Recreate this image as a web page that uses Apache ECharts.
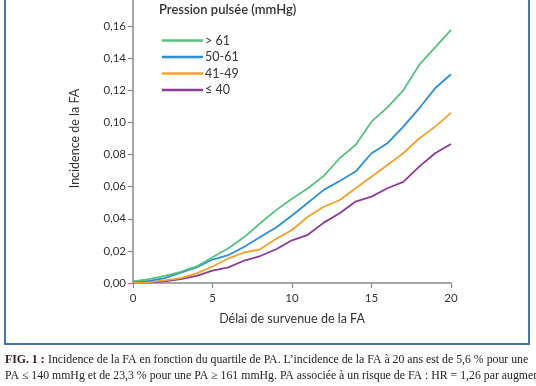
<!DOCTYPE html>
<html>
<head>
<meta charset="utf-8">
<script src="https://cdn.jsdelivr.net/npm/echarts@6/dist/echarts.min.js"></script>
<style>
html,body{margin:0;padding:0;background:#fff;}
#c{width:536px;height:386px;}
</style>
</head>
<body>
<div id="c"></div>
<script>
const years = [0,1,2,3,4,5,6,7,8,9,10,11,12,13,14,15,16,17,18,19,20];
const seriesNames = ['> 61','50-61','41-49','≤ 40'];
const pp61 = [0.001,0.0024,0.0045,0.007,0.0103,0.016,0.0217,0.0286,0.0372,0.0454,0.0525,0.059,0.0667,0.0777,0.086,0.1005,0.1094,0.120,0.1358,0.1468,0.1576];
const pp50 = [0.001,0.0013,0.003,0.0065,0.0097,0.0146,0.0174,0.0226,0.0286,0.0346,0.042,0.050,0.058,0.0635,0.0694,0.0808,0.087,0.0974,0.1088,0.1213,0.130];
const pp41 = [0.0005,0.0006,0.0017,0.003,0.006,0.0103,0.0153,0.019,0.021,0.0275,0.033,0.0413,0.0475,0.0517,0.059,0.0662,0.0735,0.0808,0.090,0.0974,0.106];
const pp40 = [0.0005,0.0004,0.001,0.0024,0.0045,0.0077,0.0097,0.014,0.0168,0.021,0.0266,0.030,0.0376,0.0434,0.0507,0.0538,0.059,0.063,0.0725,0.0808,0.0866];
const colors = ['#55c27c','#2b8fd4','#f5a02c','#8b3a98'];
const xTicks = [0,5,10,15,20];
const yTicks = [0,0.02,0.04,0.06,0.08,0.10,0.12,0.14,0.16,0.18];
const legendTitle = 'Pression pulsée (mmHg)';
const xName = 'Délai de survenue de la FA';
const yName = 'Incidence de la FA';
const captionLead = 'FIG. 1 :';
const caption1 = 'Incidence de la FA en fonction du quartile de PA. L’incidence de la FA à 20 ans est de 5,6 % pour une';
const caption2 = 'PA ≤ 140 mmHg et de 23,3 % pour une PA ≥ 161 mmHg. PA associée à un risque de FA : HR = 1,26 par augmen-';

const allData = [pp61, pp50, pp41, pp40];
const chart = echarts.init(document.getElementById('c'));
const font = 'Lato, "Open Sans", sans-serif';
const serif = '"Liberation Serif", "DejaVu Serif", serif';
chart.setOption({
  animation: false,
  backgroundColor: '#fff',
  grid: {left: 133, width: 318, top: -6, height: 289, containLabel: false, outerBoundsMode: 'none'},
  xAxis: {
    type: 'value', min: 0, max: 20, interval: 5,
    axisLine: {lineStyle: {color: '#8a8a8a', width: 1.5}},
    axisTick: {length: 5, lineStyle: {color: '#8a8a8a', width: 1.2}},
    axisLabel: {color: '#333', fontFamily: font, fontSize: 11.5, margin: 9},
    splitLine: {show: false},
    name: xName, nameLocation: 'middle', nameGap: 29,
    nameTextStyle: {color: '#333', fontFamily: font, fontSize: 12.5}
  },
  yAxis: {
    type: 'value', min: 0, max: 0.18, interval: 0.02,
    axisLine: {show: true, lineStyle: {color: '#8a8a8a', width: 1.5}},
    axisTick: {show: true, length: 5, lineStyle: {color: '#8a8a8a', width: 1.2}},
    axisLabel: {color: '#333', fontFamily: font, fontSize: 11.5, margin: 7,
      formatter: v => v.toFixed(2).replace('.', ',')},
    splitLine: {show: false},
    name: yName, nameLocation: 'middle', nameGap: 44, nameRotate: 90,
    nameTextStyle: {color: '#333', fontFamily: font, fontSize: 12.5, padding: [0,0,8,0]}
  },
  legend: {
    data: seriesNames, orient: 'vertical', left: 157, top: 29,
    icon: 'rect', itemWidth: 41, itemHeight: 2.5, itemGap: 3.5,
    textStyle: {color: '#333', fontFamily: font, fontSize: 12.5, padding: [0,0,0,-3]}
  },
  series: allData.map((d, i) => ({
    name: seriesNames[i], type: 'line', showSymbol: false, symbol: 'none',
    data: years.map((y, j) => [y, d[j]]),
    lineStyle: {color: colors[i], width: 1.8}, itemStyle: {color: colors[i]},
    z: 10 - i
  })),
  graphic: [
    {type: 'rect', shape: {x: 5, y: -10, width: 524, height: 354},
     style: {fill: 'none', stroke: '#4a70b4', lineWidth: 2}, z: 0},
    {type: 'text', left: 159, top: 3,
     style: {text: legendTitle, fill: '#333', font: '600 13px ' + font}},
    {type: 'text', left: 5, top: 354,
     style: {rich: {b: {fontFamily: serif, fontSize: 11.8, fontWeight: 'bold', fill: '#3a2020'},
                    n: {fontFamily: serif, fontSize: 11.8, fill: '#222'}},
             text: '{b|' + captionLead + '} {n|' + caption1 + '}'}},
    {type: 'text', left: 5, top: 370,
     style: {text: caption2, fill: '#222', font: '11.8px ' + serif}}
  ]
});
</script>
</body>
</html>
